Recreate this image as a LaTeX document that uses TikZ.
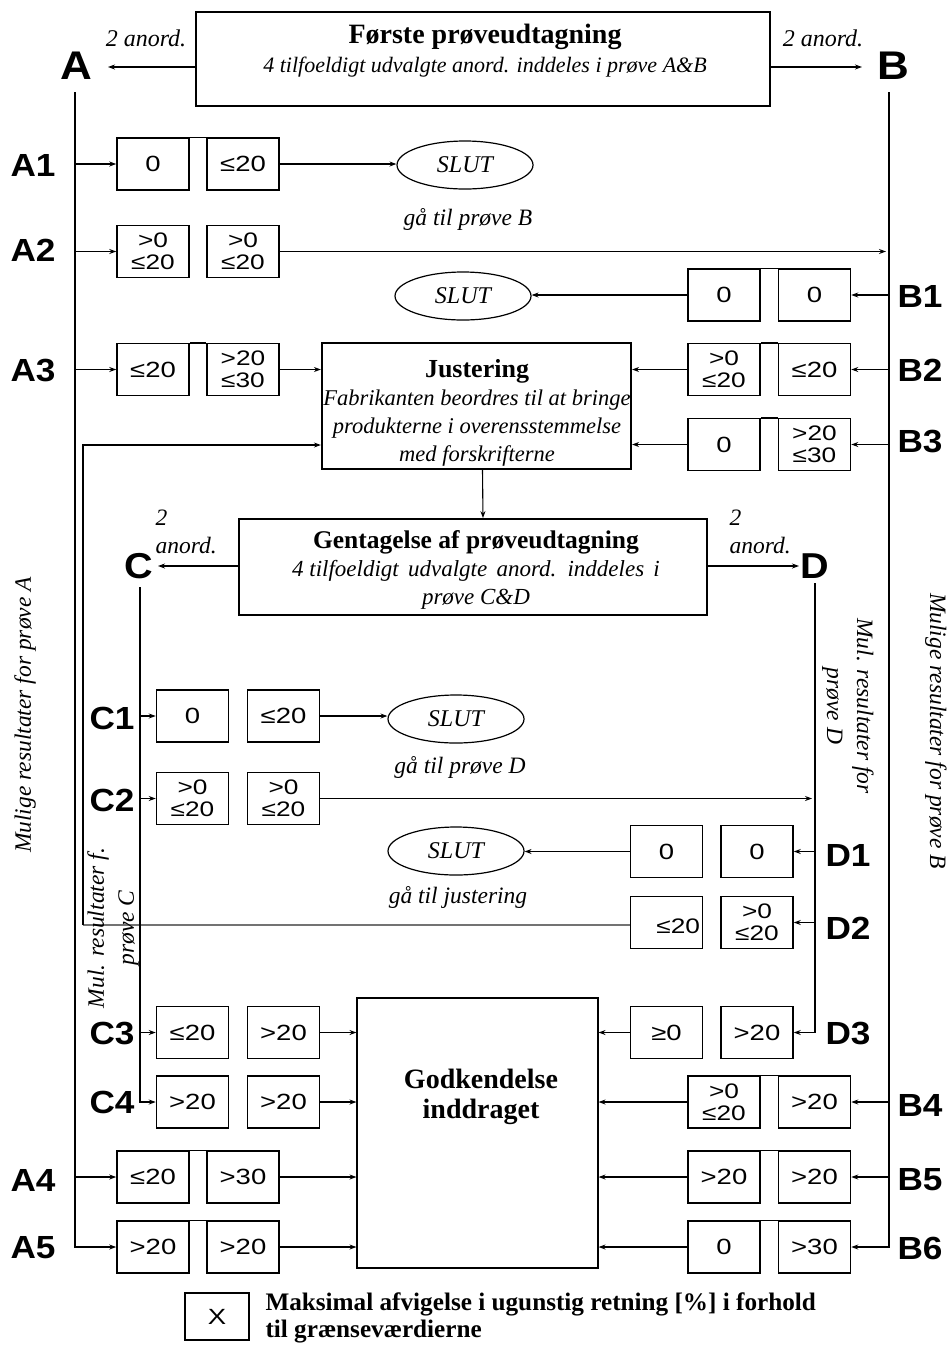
\documentclass[tikz,border=0pt]{standalone}
\usepackage{fontspec}
\setmainfont{Liberation Serif}
\newfontfamily\lsans[FakeStretch=1.1]{Liberation Sans}
\newfontfamily\boxf[FakeStretch=1.25]{Liberation Sans}
\usetikzlibrary{shapes.geometric,arrows.meta,calc}
\begin{document}
\begin{tikzpicture}[x=1pt,y=-1pt,
  vb/.style={draw, line width=1.5pt, minimum width=72pt, minimum height=52pt, inner sep=0pt, text height=15pt, text depth=0pt, font=\boxf\fontsize{22}{22}\selectfont},
  vbb/.style={draw, line width=1.5pt, minimum width=72pt, minimum height=52pt, inner sep=0pt, align=center, font=\boxf\fontsize{21}{22}\selectfont},
  lab/.style={inner sep=1pt, font=\lsans\bfseries\fontsize{32}{32}\selectfont},
  biglab/.style={inner sep=1pt, font=\lsans\bfseries\fontsize{40}{40}\selectfont},
  arr/.style={-{Stealth[length=7pt,width=5pt]}, line width=1.6pt},
  tarr/.style={-{Stealth[length=7pt,width=5pt]}, line width=1.1pt},
  ln/.style={line width=1.5pt},
  slut/.style={ellipse, draw, line width=1.2pt, minimum width=136pt, minimum height=48pt, inner sep=0pt, font=\itshape\fontsize{24}{24}\selectfont},
  it/.style={font=\itshape\fontsize{23.5}{28}\selectfont},
  frame/.style={draw, inner sep=0pt}
]
\path[use as bounding box] (0,0) rectangle (952,1345);

% ---------- top ----------
\node[frame, line width=2.8pt, minimum width=574pt, minimum height=94pt] (first) at (483,59) {};
\node[font=\bfseries\fontsize{28}{28}\selectfont] (firstT) at (485,37) {Første prøveudtagning};
\node[font=\itshape\fontsize{22}{22}\selectfont] (firstS) at (485,67) {4 tilfoeldigt udvalgte anord. inddeles i prøve A\&B};
\node[biglab] (A) at (76,66) {A};
\node[biglab] (B) at (893,66) {B};
\coordinate (Ain) at (108,67);
\coordinate (Bin) at (862,67);
\draw[tarr] ($(first.west)+(0,8)$) -- (Ain);
\draw[tarr] ($(first.east)+(0,8)$) -- (Bin);
\node[it, font=\itshape\fontsize{24}{28}\selectfont] (n2a) at (146,38) {2 anord.};
\node[it, font=\itshape\fontsize{24}{28}\selectfont] (n2b) at (823,38) {2 anord.};

\coordinate (Atop) at (75,92);
\coordinate (Btop) at (889,92);

% ---------- A1 ----------
\node[lab] (lA1) at (33,165) {A1};
\node[vb] (a1a) at (153,164) {0};
\node[vb] (a1b) at (243,164) {≤20};
\node[slut] (s1) at (465,165) {SLUT};
\draw[arr] (Atop |- a1a.west) -- (a1a.west);
\draw[arr] (a1b.east) -- (s1.west |- a1b.east);
\draw[ln] (a1a.north east) -- (a1b.north west);
\node[it] (gB) at (468,220) {gå til prøve B};

% ---------- A2 ----------
\node[lab] (lA2) at (33,250) {A2};
\node[vbb] (a2a) at (153,251.5) {>0\\≤20};
\node[vbb] (a2b) at (243,251.5) {>0\\≤20};
\coordinate (a2end) at (886,251.5);
\draw[arr] (Atop |- a2a.west) -- (a2a.west);
\draw[arr] (a2b.east) -- (a2end);

% ---------- B1 ----------
\node[lab] (lB1) at (920,296) {B1};
\node[vb] (b1a) at (724,295) {0};
\node[vb] (b1b) at (814.5,295) {0};
\node[slut] (s2) at (463,296) {SLUT};
\draw[arr] (Btop |- b1b.east) -- (b1b.east);
\draw[arr] (b1a.west) -- (s2.east |- b1a.west);
\draw[ln] (b1a.north east) -- (b1b.north west);

% ---------- Justering ----------
\node[frame, line width=2.2pt, minimum width=309pt, minimum height=126pt] (just) at (476.5,406) {};
\node[align=center, font=\itshape\fontsize{22.5}{28}\selectfont] (justT) at (477,413) {{\upshape\bfseries\fontsize{26}{28}\selectfont Justering}\\Fabrikanten beordres til at bringe\\produkterne i overensstemmelse\\med forskrifterne};

% ---------- A3 ----------
\node[lab] (lA3) at (33,370) {A3};
\node[vb] (a3a) at (153,369.5) {≤20};
\node[vbb] (a3b) at (243,369.5) {>20\\≤30};
\draw[arr] (Atop |- a3a.west) -- (a3a.west);
\draw[arr] (a3b.east) -- (just.west |- a3b.east);
\draw[ln] (a3a.north east) -- (a3b.north west);

% ---------- B2 / B3 ----------
\node[lab] (lB2) at (920,370) {B2};
\node[vbb] (b2a) at (724,369.5) {>0\\≤20};
\node[vb] (b2b) at (814.5,369.5) {≤20};
\draw[arr] (Btop |- b2b.east) -- (b2b.east);
\draw[arr] (b2a.west) -- (just.east |- b2a.west);
\draw[ln] (b2a.north east) -- (b2b.north west);

\node[lab] (lB3) at (920,441) {B3};
\node[vb] (b3a) at (724,444.5) {0};
\node[vbb] (b3b) at (814.5,444.5) {>20\\≤30};
\draw[arr] (Btop |- b3b.east) -- (b3b.east);
\draw[arr] (b3a.west) -- (just.east |- b3a.west);
\draw[ln] (b3a.north east) -- (b3b.north west);

% ---------- Gentagelse ----------
\node[frame, line width=1.8pt, minimum width=468pt, minimum height=96pt] (gen) at (473,567) {};
\node[align=center, font=\itshape\fontsize{23}{28}\selectfont] (genT) at (476,570) {{\upshape\bfseries\fontsize{25.5}{28}\selectfont Gentagelse af prøveudtagning}\\4 tilfoeldigt\hspace{3.5pt} udvalgte\hspace{3.5pt} anord.\hspace{3.5pt} inddeles\hspace{3.5pt} i\\prøve C\&D};
\draw[tarr] ($(just.south)+(6,0)$) -- ($(gen.north)+(10,0)$);

\node[biglab, font=\lsans\bfseries\fontsize{36}{36}\selectfont] (C) at (139,566) {C};
\node[biglab, font=\lsans\bfseries\fontsize{36}{36}\selectfont] (D) at (815,566) {D};
\coordinate (Cin) at (158,566);
\coordinate (Din) at (799,566);
\draw[tarr] (gen.west |- Cin) -- (Cin);
\draw[tarr] (gen.east |- Din) -- (Din);
\node[it, align=left, anchor=west] (n2c) at (152,532) {2\\anord.};
\node[it, align=left, anchor=west] (n2d) at (726,532) {2\\anord.};

\coordinate (Ctop) at (140,587);
\coordinate (Dtop) at (815,583);

% ---------- C1 / C2 ----------
\node[lab] (lC1) at (112,718) {C1};
\node[vb] (c1a) at (192.5,716) {0};
\node[vb] (c1b) at (283.5,716) {≤20};
\node[slut] (s3) at (456,719) {SLUT};
\draw[tarr] (Ctop |- c1a.west) -- (c1a.west);
\draw[tarr] (c1b.east) -- (s3.west |- c1b.east);
\node[it] (gD) at (460,767) {gå til prøve D};

\node[lab] (lC2) at (112,800) {C2};
\node[vbb] (c2a) at (192.5,798.5) {>0\\≤20};
\node[vbb] (c2b) at (283.5,798.5) {>0\\≤20};
\coordinate (c2end) at (812,800);
\draw[tarr] (Ctop |- c2a.west) -- (c2a.west);
\draw[arr] (c2b.east) -- (c2b.east -| c2end);

% ---------- D1 / D2 ----------
\node[lab] (lD1) at (848,855) {D1};
\node[vb] (d1a) at (666.5,851.5) {0};
\node[vb] (d1b) at (757,851.5) {0};
\node[slut] (s4) at (456,851) {SLUT};
\draw[tarr] (Dtop |- d1b.east) -- (d1b.east);
\draw[tarr] (d1a.west) -- (s4.east |- d1a.west);
\node[it] (gJ) at (458,897) {gå til justering};

\node[lab] (lD2) at (848,928) {D2};
\node[vbb, text width=67pt, align=right] (d2a) at (666.5,922.5) {\mbox{}\\≤20};
\node[vbb] (d2b) at (757,922.5) {>0\\≤20};
\draw[tarr] (Dtop |- d2b.east) -- (d2b.east);
\coordinate (ret1) at (83,925);
\coordinate (ret2) at (83,445);
\draw[line width=1.2pt, black!55] (d2a.west |- ret1) -- (ret1);
\draw[arr] (ret1) -- (ret2) -- (just.west |- ret2);

% ---------- Godkendelse ----------
\node[frame, line width=1.1pt, minimum width=241pt, minimum height=270pt] (godk) at (477.5,1133) {};
\node[align=center, font=\bfseries\fontsize{28}{30}\selectfont] (godkT) at (481,1097) {Godkendelse\\inddraget};

% ---------- C3 / C4 ----------
\node[lab] (lC3) at (112,1033) {C3};
\node[vb] (c3a) at (192.5,1032.5) {≤20};
\node[vb] (c3b) at (283.5,1032.5) {>20};
\draw[tarr] (Ctop |- c3a.west) -- (c3a.west);
\draw[tarr] (c3b.east) -- (godk.west |- c3b.east);

\node[lab] (lC4) at (112,1102) {C4};
\node[vb] (c4a) at (192.5,1102) {>20};
\node[vb] (c4b) at (283.5,1102) {>20};
\draw[arr] (Ctop) |- (c4a.west);
\draw[arr] (c4b.east) -- (godk.west |- c4b.east);

% ---------- D3 ----------
\node[lab] (lD3) at (848,1033) {D3};
\node[vb] (d3a) at (666.5,1032.5) {≥0};
\node[vb] (d3b) at (757,1032.5) {>20};
\draw[tarr] (Dtop) |- (d3b.east);
\draw[tarr] (d3a.west) -- (godk.east |- d3a.west);

% ---------- B4 / B5 / B6 ----------
\node[lab] (lB4) at (920,1105) {B4};
\node[vbb] (b4a) at (724,1102) {>0\\≤20};
\node[vb] (b4b) at (814.5,1102) {>20};
\draw[arr] (Btop |- b4b.east) -- (b4b.east);
\draw[arr] (b4a.west) -- (godk.east |- b4a.west);
\draw[ln] (b4a.north east) -- (b4b.north west);

\node[lab] (lB5) at (920,1180) {B5};
\node[vb] (b5a) at (724,1177) {>20};
\node[vb] (b5b) at (814.5,1177) {>20};
\draw[arr] (Btop |- b5b.east) -- (b5b.east);
\draw[arr] (b5a.west) -- (godk.east |- b5a.west);
\draw[ln] (b5a.north east) -- (b5b.north west);

\node[lab] (lB6) at (920,1248) {B6};
\node[vb] (b6a) at (724,1247) {0};
\node[vb] (b6b) at (814.5,1247) {>30};
\draw[arr] (Btop) |- (b6b.east);
\draw[arr] (b6a.west) -- (godk.east |- b6a.west);
\draw[ln] (b6a.north east) -- (b6b.north west);

% ---------- A4 / A5 ----------
\node[lab] (lA4) at (33,1180) {A4};
\node[vb] (a4a) at (153,1177) {≤20};
\node[vb] (a4b) at (243,1177) {>30};
\draw[arr] (Atop |- a4a.west) -- (a4a.west);
\draw[arr] (a4b.east) -- (godk.west |- a4b.east);
\draw[ln] (a4a.north east) -- (a4b.north west);

\node[lab] (lA5) at (33,1248) {A5};
\node[vb] (a5a) at (153,1247) {>20};
\node[vb] (a5b) at (243,1247) {>20};
\draw[arr] (Atop) |- (a5a.west);
\draw[arr] (a5b.east) -- (godk.west |- a5b.east);
\draw[ln] (a5a.north east) -- (a5b.north west);

% ---------- side texts ----------
\node[it, rotate=90] (mA) at (25,715) {Mulige resultater for prøve A};
\node[it, rotate=-90] (mB) at (936,731) {Mulige resultater for prøve B};
\node[it, rotate=-90, align=center, font=\itshape\fontsize{23.5}{30}\selectfont] (mD) at (848,706) {Mul. resultater for\\prøve D};
\node[it, rotate=90, align=center, font=\itshape\fontsize{23.5}{30}\selectfont] (mC) at (113,928) {Mul. resultater f.\\prøve C};

% ---------- legend ----------
\node[vb, minimum width=64pt, minimum height=47pt, font=\boxf\fontsize{22}{22}\selectfont] (leg) at (217,1316.5) {X};
\node[anchor=west, align=left, font=\bfseries\fontsize{25.2}{27}\selectfont] (legT) at (262,1318) {Maksimal afvigelse i ugunstig retning [\%] i forhold\\til grænseværdierne};
\end{tikzpicture}
\end{document}
